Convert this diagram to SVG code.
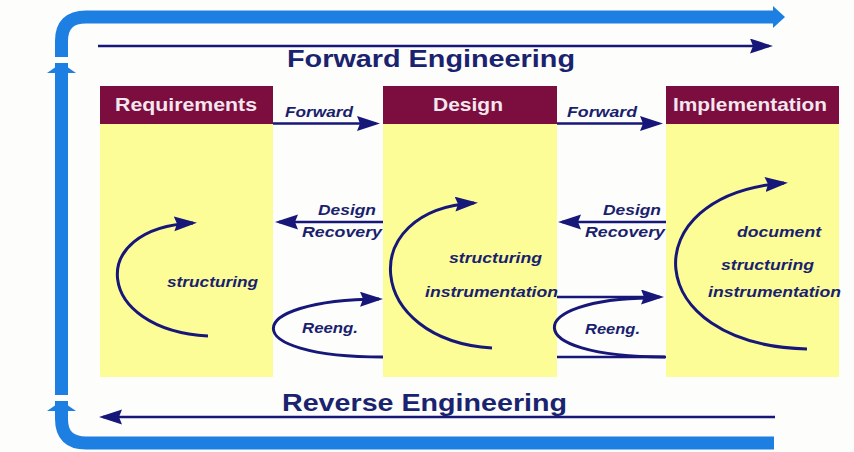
<svg xmlns="http://www.w3.org/2000/svg" width="854" height="452" viewBox="0 0 854 452">
<style>
.hdr{fill:#7b0e3e}
.body{fill:#fdfd98}
.htxt{font-family:"Liberation Sans",Arial,sans-serif;font-weight:bold;font-size:19px;fill:#f3e6ee}
.title{font-family:"Liberation Sans",Arial,sans-serif;font-weight:bold;font-size:24px;fill:#1a2370}
.lbl{font-family:"Liberation Sans",Arial,sans-serif;font-weight:bold;font-style:italic;font-size:15px;fill:#1a1f6e}
.ln{stroke:#17177a;stroke-width:2.6;fill:none}
.cv{stroke:#17177a;stroke-width:3;fill:none}
.blue{stroke:#1e7fe2;stroke-width:13;fill:none}
</style>
<defs>
<marker id="ah" markerUnits="userSpaceOnUse" markerWidth="26" markerHeight="16" refX="19" refY="7.5" orient="auto">
<path d="M0,0 L23,7.5 L0,15 L3,7.5 z" fill="#17177a"/>
</marker>
</defs>
<rect x="0" y="0" width="854" height="452" fill="#fdfdfb"/>
<g id="loop">
<path class="blue" d="M776 17 L86 17 Q61.5 17 61.5 41 L61.5 419 Q61.5 443 86 443 L774 443"/>
<rect x="50" y="57" width="24" height="6" fill="#fdfdfb"/>
<rect x="50" y="395" width="24" height="6" fill="#fdfdfb"/>
<polygon points="47,73 61.5,63 76,73" fill="#1e7fe2"/>
<polygon points="47,411 61.5,401 76,411" fill="#1e7fe2"/>
<polygon points="773,6 785,17 773,28" fill="#1e7fe2"/>
</g>
<g id="requirements">
<rect class="body" x="100" y="124" width="173" height="253"/>
<rect class="hdr" x="100" y="86" width="173" height="38"/>
<text class="htxt" x="115" y="111" textLength="142" lengthAdjust="spacingAndGlyphs">Requirements</text>
<text class="lbl" x="167" y="287" textLength="91" lengthAdjust="spacingAndGlyphs">structuring</text>
</g>
<g id="design">
<rect class="body" x="383" y="124" width="174" height="253"/>
<rect class="hdr" x="383" y="86" width="174" height="38"/>
<text class="htxt" x="433" y="111" textLength="70" lengthAdjust="spacingAndGlyphs">Design</text>
<text class="lbl" x="449" y="263" textLength="93" lengthAdjust="spacingAndGlyphs">structuring</text>
<text class="lbl" x="425" y="297" textLength="133" lengthAdjust="spacingAndGlyphs">instrumentation</text>
</g>
<g id="implementation">
<rect class="body" x="666" y="124" width="173" height="253"/>
<rect class="hdr" x="666" y="86" width="173" height="38"/>
<text class="htxt" x="673" y="111" textLength="154" lengthAdjust="spacingAndGlyphs">Implementation</text>
<text class="lbl" x="737" y="237" textLength="84" lengthAdjust="spacingAndGlyphs">document</text>
<text class="lbl" x="721" y="270" textLength="93" lengthAdjust="spacingAndGlyphs">structuring</text>
<text class="lbl" x="708" y="297" textLength="133" lengthAdjust="spacingAndGlyphs">instrumentation</text>
</g>
<g id="connectors">
<line class="ln" x1="98" y1="46" x2="769" y2="46" marker-end="url(#ah)"/>
<line class="ln" x1="775" y1="417" x2="103" y2="417" marker-end="url(#ah)"/>
<line class="ln" x1="273" y1="123.5" x2="376" y2="123.5" marker-end="url(#ah)"/>
<line class="ln" x1="557" y1="123.5" x2="659" y2="123.5" marker-end="url(#ah)"/>
<line class="ln" x1="383" y1="222" x2="279" y2="222" marker-end="url(#ah)"/>
<line class="ln" x1="666" y1="222" x2="562" y2="222" marker-end="url(#ah)"/>
<line class="ln" x1="557" y1="297" x2="660" y2="297" marker-end="url(#ah)"/>
<line class="ln" x1="557" y1="357" x2="666" y2="357"/>
<path class="cv" d="M383 357 C235 357 240 300 379 299" marker-end="url(#ah)"/>
<path class="cv" d="M665 357 C515 357 525 299 650 298"/>
<path class="cv" d="M208 336 C95 330 85 228 193 223" marker-end="url(#ah)"/>
<path class="cv" d="M492 348 C365 340 355 210 474 203" marker-end="url(#ah)"/>
<path class="cv" d="M807 349 C640 345 632 195 784 183" marker-end="url(#ah)"/>
</g>
<g id="labels">
<text class="title" x="287" y="67" textLength="288" lengthAdjust="spacingAndGlyphs">Forward Engineering</text>
<text class="title" x="282" y="411" textLength="285" lengthAdjust="spacingAndGlyphs">Reverse Engineering</text>
<text class="lbl" x="285" y="117" textLength="68" lengthAdjust="spacingAndGlyphs">Forward</text>
<text class="lbl" x="567" y="117" textLength="70" lengthAdjust="spacingAndGlyphs">Forward</text>
<text class="lbl" x="318" y="215" textLength="58" lengthAdjust="spacingAndGlyphs">Design</text>
<text class="lbl" x="302" y="237" textLength="80" lengthAdjust="spacingAndGlyphs">Recovery</text>
<text class="lbl" x="603" y="215" textLength="58" lengthAdjust="spacingAndGlyphs">Design</text>
<text class="lbl" x="585" y="237" textLength="80" lengthAdjust="spacingAndGlyphs">Recovery</text>
<text class="lbl" x="302" y="333" textLength="56" lengthAdjust="spacingAndGlyphs">Reeng.</text>
<text class="lbl" x="585" y="334" textLength="55" lengthAdjust="spacingAndGlyphs">Reeng.</text>
</g>
</svg>
